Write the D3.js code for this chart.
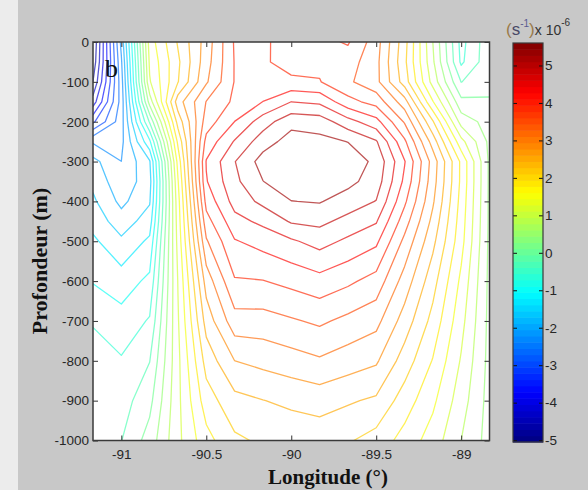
<!DOCTYPE html>
<html>
<head>
<meta charset="utf-8">
<script src="https://cdn.jsdelivr.net/npm/d3@7"></script>
<style>
  html, body { margin: 0; padding: 0; background: #c8c8c8; }
  svg { display: block; }
  .tick text { font-family: "Liberation Sans", Arial, sans-serif; font-size: 13.5px; fill: #262626; }
</style>
</head>
<body>
<svg id="chart" width="588" height="490"></svg>
<script>
// Relative vorticity section (x 1e-6 s^-1): longitude vs depth
const longitudes = [-91.1667, -91.0, -90.8333, -90.6667, -90.5, -90.3333, -90.1667, -90.0,
                    -89.8333, -89.6667, -89.5, -89.3333, -89.1667, -89.0, -88.8333];
const depths = [0, -50, -100, -150, -200, -250, -300, -350, -400, -450, -500, -600, -700, -800, -900, -1000];

// one row per depth, one column per longitude
const vorticity = [
  [-5.05, -2.20,  1.30, 2.20, 3.00, 3.92, 3.95, 3.70, 3.78, 3.92, 3.35, 2.30, 0.79, -0.70, 0.00],
  [-4.95, -2.35,  1.20, 2.10, 3.05, 3.90, 3.93, 3.75, 3.80, 3.70, 3.30, 2.25, 0.85, -0.65, 0.00],
  [-4.70, -2.45,  1.10, 2.15, 3.15, 3.90, 3.95, 3.95, 3.90, 3.60, 3.30, 2.35, 1.00, -0.25, 0.05],
  [-4.20, -2.50,  0.60, 2.70, 3.55, 3.95, 4.23, 4.57, 4.50, 4.00, 3.75, 3.00, 1.50,  0.20, 0.12],
  [-3.40, -2.45, -0.20, 2.30, 3.70, 4.23, 4.75, 5.15, 5.10, 4.70, 4.35, 3.50, 2.20,  0.65, 0.30],
  [-2.35, -2.40, -1.00, 1.90, 4.00, 4.60, 5.10, 5.40, 5.35, 5.25, 4.95, 3.95, 2.70,  1.25, 0.36],
  [-1.85, -2.30, -1.65, 1.60, 4.25, 4.90, 5.40, 5.60, 5.60, 5.45, 5.18, 4.25, 3.05,  1.75, 0.38],
  [-1.70, -2.20, -1.75, 1.45, 4.20, 4.83, 5.25, 5.45, 5.50, 5.35, 5.10, 4.15, 3.00,  1.75, 0.38],
  [-1.55, -2.05, -1.65, 1.35, 4.00, 4.70, 5.00, 5.25, 5.28, 5.10, 4.90, 3.95, 2.90,  1.70, 0.38],
  [-1.40, -1.80, -1.45, 1.30, 3.75, 4.45, 4.65, 4.95, 5.00, 4.80, 4.60, 3.70, 2.75,  1.65, 0.38],
  [-1.20, -1.55, -1.20, 1.25, 3.50, 4.20, 4.35, 4.52, 4.70, 4.50, 4.30, 3.45, 2.60,  1.60, 0.37],
  [-0.95, -1.10, -0.85, 1.15, 3.00, 3.85, 3.87, 3.98, 4.10, 3.95, 3.75, 3.05, 2.30,  1.40, 0.36],
  [-0.60, -0.80, -0.55, 1.10, 2.65, 3.40, 3.40, 3.50, 3.60, 3.45, 3.30, 2.70, 2.05,  1.25, 0.35],
  [-0.50, -0.55, -0.25, 1.05, 2.30, 2.85, 2.95, 3.05, 3.15, 3.02, 2.90, 2.35, 1.80,  1.10, 0.34],
  [-0.47, -0.40,  0.00, 1.05, 2.00, 2.40, 2.50, 2.58, 2.65, 2.55, 2.45, 2.00, 1.55,  0.95, 0.32],
  [-0.45, -0.25,  0.25, 1.05, 1.70, 2.10, 2.22, 2.28, 2.30, 2.20, 2.03, 1.69, 1.32,  0.79, 0.31]
];

const colorLimits = [-5.05, 5.6];
const contourCount = 30;
const lonTicks = [-91, -90.5, -90, -89.5, -89];
const depthTicks = [0, -100, -200, -300, -400, -500, -600, -700, -800, -900, -1000];
const colorbarTicks = [-5, -4, -3, -2, -1, 0, 1, 2, 3, 4, 5];

// MATLAB-style jet colormap
function jet(t) {
  const c = v => Math.max(0, Math.min(1, v));
  const r = c(1.5 - Math.abs(4 * t - 3));
  const g = c(1.5 - Math.abs(4 * t - 2));
  const b = c(1.5 - Math.abs(4 * t - 1));
  return d3.rgb(r * 255, g * 255, b * 255).toString();
}
const colorOf = v => jet((v - colorLimits[0]) / (colorLimits[1] - colorLimits[0]));

const svg = d3.select("#chart");
const W = 588, H = 490;
const plot = { left: 93, right: 489.5, top: 42, bottom: 440.5 };

// background and light strip on the far left
svg.append("rect").attr("width", W).attr("height", H).attr("fill", "#c8c8c8");
svg.append("rect").attr("width", 18).attr("height", H).attr("fill", "#ececec");

const x = d3.scaleLinear().domain([longitudes[0], longitudes[longitudes.length - 1]]).range([plot.left, plot.right]);
const y = d3.scaleLinear().domain([0, -1000]).range([plot.top, plot.bottom]);

// grid coordinate (cell centres at i + 0.5) -> data coordinate
const idxLon = d3.scaleLinear().domain(longitudes.map((_, i) => i + 0.5)).range(longitudes);
const idxDepth = d3.scaleLinear().domain(depths.map((_, i) => i + 0.5)).range(depths);

svg.append("defs").append("clipPath").attr("id", "plotClip")
  .append("rect").attr("x", plot.left).attr("y", plot.top)
  .attr("width", plot.right - plot.left).attr("height", plot.bottom - plot.top);

svg.append("rect").attr("x", plot.left).attr("y", plot.top)
  .attr("width", plot.right - plot.left).attr("height", plot.bottom - plot.top)
  .attr("fill", "#ffffff");

const levels = d3.range(1, contourCount + 1)
  .map(k => colorLimits[0] + k * (colorLimits[1] - colorLimits[0]) / (contourCount + 1));

const nx = longitudes.length, ny = depths.length;
const contours = d3.contours().size([nx, ny]).thresholds(levels)(vorticity.flat());

const projection = d3.geoTransform({
  point(px, py) { this.stream.point(x(idxLon(px)), y(idxDepth(py))); }
});
const path = d3.geoPath(projection);

svg.append("g").attr("clip-path", "url(#plotClip)")
  .selectAll("path").data(contours).join("path")
  .attr("d", path)
  .attr("fill", "none")
  .attr("stroke", d => colorOf(d.value))
  .attr("stroke-width", 1.3)
  .attr("stroke-opacity", 0.66)
  .attr("stroke-linejoin", "round");

// panel letter
svg.append("text").attr("x", 105).attr("y", 77)
  .attr("font-family", "'Liberation Serif', 'Times New Roman', serif")
  .attr("font-size", 26).attr("fill", "#111").text("b");

// axes with inward ticks
const xAxisB = svg.append("g").attr("transform", `translate(0,${plot.bottom})`)
  .call(d3.axisBottom(x).tickValues(lonTicks).tickFormat(d => String(d)).tickSizeInner(-5).tickSizeOuter(0).tickPadding(9));
const xAxisT = svg.append("g").attr("transform", `translate(0,${plot.top})`)
  .call(d3.axisTop(x).tickValues(lonTicks).tickFormat("").tickSizeInner(-5).tickSizeOuter(0));
const yAxisL = svg.append("g").attr("transform", `translate(${plot.left},0)`)
  .call(d3.axisLeft(y).tickValues(depthTicks).tickFormat(d => String(d)).tickSizeInner(-5).tickSizeOuter(0).tickPadding(4));
const yAxisR = svg.append("g").attr("transform", `translate(${plot.right},0)`)
  .call(d3.axisRight(y).tickValues(depthTicks).tickFormat("").tickSizeInner(-5).tickSizeOuter(0));
[xAxisB, xAxisT, yAxisL, yAxisR].forEach(g => {
  g.select(".domain").remove();
  g.selectAll(".tick line").attr("stroke", "#333").attr("stroke-width", 1);
});

svg.append("rect").attr("x", plot.left).attr("y", plot.top)
  .attr("width", plot.right - plot.left).attr("height", plot.bottom - plot.top)
  .attr("fill", "none").attr("stroke", "#3a3a3a").attr("stroke-width", 1.5);

// axis titles
svg.append("text").attr("x", 328).attr("y", 484).attr("text-anchor", "middle")
  .attr("font-family", "'Liberation Serif', 'Times New Roman', serif")
  .attr("font-weight", "bold").attr("font-size", 21).attr("fill", "#111")
  .text("Longitude (°)");
svg.append("text").attr("transform", "translate(47,261) rotate(-90)").attr("text-anchor", "middle")
  .attr("font-family", "'Liberation Serif', 'Times New Roman', serif")
  .attr("font-weight", "bold").attr("font-size", 22).attr("fill", "#111")
  .text("Profondeur  (m)");

// colorbar
const cb = { left: 513, right: 543, top: 43, bottom: 442 };
const cbScale = d3.scaleLinear().domain(colorLimits).range([cb.bottom, cb.top]);
const nBands = 64;
const bandStep = (colorLimits[1] - colorLimits[0]) / nBands;
svg.append("g").selectAll("rect").data(d3.range(nBands)).join("rect")
  .attr("x", cb.left).attr("width", cb.right - cb.left)
  .attr("y", i => cbScale(colorLimits[0] + (i + 1) * bandStep))
  .attr("height", i => cbScale(colorLimits[0] + i * bandStep) - cbScale(colorLimits[0] + (i + 1) * bandStep) + 0.5)
  .attr("fill", i => jet((i + 0.5) / nBands));

const cbR = svg.append("g").attr("transform", `translate(${cb.right},0)`)
  .call(d3.axisRight(cbScale).tickValues(colorbarTicks).tickFormat(d => String(d)).tickSizeInner(-4).tickSizeOuter(0).tickPadding(2));
const cbL = svg.append("g").attr("transform", `translate(${cb.left},0)`)
  .call(d3.axisLeft(cbScale).tickValues(colorbarTicks).tickFormat("").tickSizeInner(-4).tickSizeOuter(0));
[cbR, cbL].forEach(g => {
  g.select(".domain").remove();
  g.selectAll(".tick line").attr("stroke", "#111").attr("stroke-width", 1);
});
svg.append("rect").attr("x", cb.left).attr("y", cb.top)
  .attr("width", cb.right - cb.left).attr("height", cb.bottom - cb.top)
  .attr("fill", "none").attr("stroke", "#3a3a3a").attr("stroke-width", 1.2);

// colorbar unit label
const unit = svg.append("text").attr("x", 506).attr("y", 35)
  .attr("font-family", "'Liberation Sans', Arial, sans-serif").attr("font-size", 17);
unit.append("tspan").attr("fill", "#9a7a48").text("(");
unit.append("tspan").attr("fill", "#4a4a66").text("s");
unit.append("tspan").attr("fill", "#5a5a90").attr("font-size", 10).attr("dy", -8).text("-1");
unit.append("tspan").attr("fill", "#9a7a48").attr("dy", 8).text(")");
unit.append("tspan").attr("fill", "#333").attr("font-size", 14).text("x 10");
unit.append("tspan").attr("fill", "#333").attr("font-size", 10).attr("dy", -9).text("-6");
</script>
</body>
</html>
